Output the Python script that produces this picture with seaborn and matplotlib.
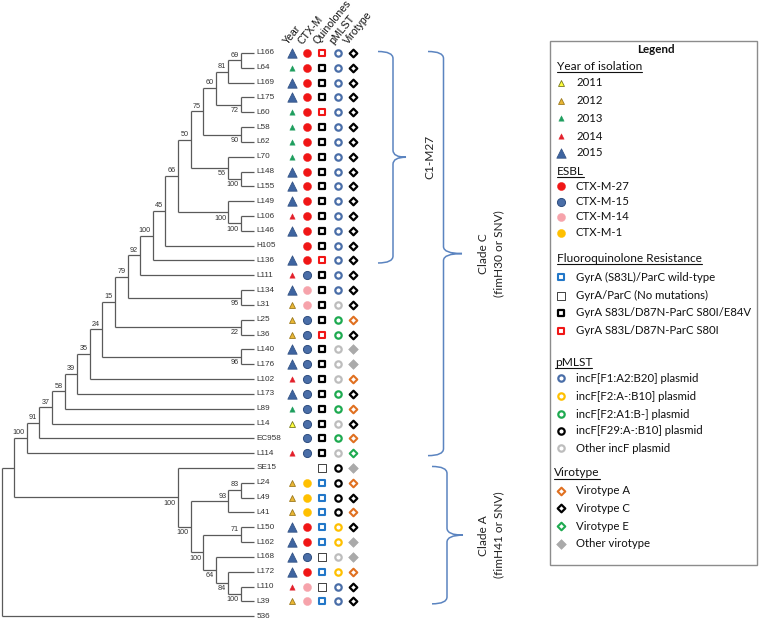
import numpy as np
import pandas as pd
import matplotlib
matplotlib.use("Agg")
import matplotlib.pyplot as plt
import seaborn as sns
from matplotlib.path import Path
from matplotlib.patches import PathPatch, Rectangle

# ---------------- DATA ----------------
TREE_NEWICK = ("((((((((((((((((((((" 
               "L166,L64)69,L169)81,(L175,L60)72)60,(L58,L62)90)75,(L70,(L148,L155)100)56)50,"
               "(L149,(L106,L146)100)100)66,H105)45,L136)100,L111)92,(L134,L31)95)79,(L25,L36)22)15,"
               "(L140,L176)96)24,L102)35,L173)39,L89)58,L14)37,EC958)91,L114)100,"
               "(SE15,(((L24,L49)83,L41)93,((L150,L162)71,(L168,(L172,(L110,L39)100)84)64)100)100)100),536);")

isolates = ["L166", "L64", "L169", "L175", "L60", "L58", "L62", "L70", "L148", "L155",
            "L149", "L106", "L146", "H105", "L136", "L111", "L134", "L31", "L25", "L36",
            "L140", "L176", "L102", "L173", "L89", "L14", "EC958", "L114", "SE15", "L24",
            "L49", "L41", "L150", "L162", "L168", "L172", "L110", "L39", "536"]

year = [2015, 2013, 2015, 2015, 2013, 2013, 2013, 2013, 2015, 2015,
        2015, 2014, 2015, None, 2015, 2014, 2015, 2012, 2012, 2012,
        2015, 2015, 2014, 2015, 2013, 2011, None, 2014, None, 2012,
        2012, 2012, 2015, 2015, 2015, 2015, 2014, 2012, None]

ctx_m = ["27"] * 15 + ["15", "14", "14", "15", "15", "15", "15", "15", "15", "15",
                       "15", "15", "15", None, "1", "1", "1", "27", "27", "15",
                       "27", "14", "14", None]

quinolones = ["S80I", "E84V", "E84V", "E84V", "S80I", "E84V", "E84V", "E84V", "E84V", "E84V",
              "E84V", "E84V", "E84V", "E84V", "S80I", "E84V", "E84V", "E84V", "E84V", "S80I",
              "E84V", "E84V", "E84V", "E84V", "E84V", "E84V", "E84V", "E84V", "none", "S83L",
              "S83L", "S83L", "S83L", "S83L", "none", "S83L", "none", "S83L", None]

pmlst = ["F1"] * 17 + ["other", "F2A1", "F2A1", "other", "other", "other", "F2A1", "F2A1",
                       "other", "F2A1", "other", "F29", "F29", "F29", "F29", "F2B10", "F2B10",
                       "other", "F2B10", "F1", "F1", None]

virotype = ["C"] * 18 + ["A", "C", "other", "other", "A", "C", "A", "C", "A", "E",
                         "other", "A", "C", "A", "C", "other", "other", "A", "C", "C", None]

columns = ["Year", "CTX-M", "Quinolones", "pMLST", "Virotype"]

year_labels = ["2011", "2012", "2013", "2014", "2015"]
esbl_labels = ["CTX-M-27", "CTX-M-15", "CTX-M-14", "CTX-M-1"]
quin_labels = ["GyrA (S83L)/ParC wild-type", "GyrA/ParC (No mutations)",
               "GyrA S83L/D87N-ParC S80I/E84V", "GyrA S83L/D87N-ParC S80I"]
pmlst_labels = ["incF[F1:A2:B20] plasmid", "incF[F2:A-:B10] plasmid", "incF[F2:A1:B-] plasmid",
                "incF[F29:A-:B10] plasmid", "Other incF plasmid"]
viro_labels = ["Virotype A", "Virotype C", "Virotype E", "Other virotype"]

clade_names = ["C1-M27", "Clade C\n(fimH30 or SNV)", "Clade A\n(fimH41 or SNV)"]
clade_first = ["L166", "L166", "SE15"]
clade_last = ["L136", "L114", "L39"]

# ---------------- STYLES ----------------
BLUE = "#4A6EA8"
STYLE = {
    ("Year", 2011): ("^", 18, "#FFFF3C", "#77771E", 0.6),
    ("Year", 2012): ("^", 18, "#E9B634", "#9C7A1E", 0.6),
    ("Year", 2013): ("^", 15, "#1E9E5E", "#1E9E5E", 0.3),
    ("Year", 2014): ("^", 15, "#E3202B", "#E3202B", 0.3),
    ("Year", 2015): ("^", 46, "#3E64A0", "#2F4E80", 0.5),
    ("CTX-M", "27"): ("o", 34, "#F01616", "#F01616", 0.3),
    ("CTX-M", "15"): ("o", 34, BLUE, "#2F4E80", 0.7),
    ("CTX-M", "14"): ("o", 34, "#F6A3AB", "#F6A3AB", 0.3),
    ("CTX-M", "1"): ("o", 34, "#FFC000", "#FFC000", 0.3),
    ("Quinolones", "S83L"): ("s", 18, "white", "#2277C8", 1.5),
    ("Quinolones", "none"): ("s", 26, "white", "#404040", 0.7),
    ("Quinolones", "E84V"): ("s", 18, "white", "black", 1.6),
    ("Quinolones", "S80I"): ("s", 18, "white", "#F01616", 1.5),
    ("pMLST", "F1"): ("o", 21, "white", BLUE, 1.6),
    ("pMLST", "F2B10"): ("o", 21, "white", "#FFC000", 1.6),
    ("pMLST", "F2A1"): ("o", 21, "white", "#1EAA50", 1.6),
    ("pMLST", "F29"): ("o", 21, "white", "black", 1.6),
    ("pMLST", "other"): ("o", 21, "white", "#BDBDBD", 1.6),
    ("Virotype", "A"): ("D", 15, "white", "#E07020", 1.5),
    ("Virotype", "C"): ("D", 15, "white", "black", 1.6),
    ("Virotype", "E"): ("D", 15, "white", "#1EAA50", 1.5),
    ("Virotype", "other"): ("D", 24, "#AAAAAA", "#AAAAAA", 0.5),
}

# ---------------- LAYOUT ----------------
LEAF_X = 253.5
STEP_X = 12.6
ROW0 = 53.0
ROW_H = 14.82
COL_X = [292, 307, 322, 338, 353]

sns.set_style("white")
plt.rcParams["font.family"] = ["Liberation Sans", "DejaVu Sans"]

fig = plt.figure(figsize=(7.6, 6.19), dpi=100)
ax = fig.add_axes([0, 0, 1, 1])
ax.set_xlim(0, 760)
ax.set_ylim(619, 0)
ax.axis("off")


# ---------------- parse tree ----------------
class Node:
    def __init__(self):
        self.children = []
        self.name = None
        self.support = None


def parse(s):
    pos = 0

    def read_label():
        nonlocal pos
        st = pos
        while pos < len(s) and s[pos] not in ",();":
            pos += 1
        return s[st:pos]

    def node():
        nonlocal pos
        n = Node()
        if s[pos] == "(":
            pos += 1
            n.children.append(node())
            while s[pos] == ",":
                pos += 1
                n.children.append(node())
            assert s[pos] == ")"
            pos += 1
            lab = read_label()
            n.support = lab if lab else None
        else:
            n.name = read_label()
        return n

    return node()


root = parse(TREE_NEWICK)
leaf_rows = {}


def layout(n):
    if not n.children:
        n.row = len(leaf_rows)
        leaf_rows[n.name] = n.row
        n.h = 0
    else:
        for c in n.children:
            layout(c)
        n.row = (n.children[0].row + n.children[-1].row) / 2
        n.h = 1 + max(c.h for c in n.children)
    n.x = LEAF_X - STEP_X * n.h
    n.y = ROW0 + ROW_H * n.row


layout(root)
assert list(leaf_rows) == isolates

LINE_C = "#5A5A5A"
TXT_C = "#333333"


def draw(n, is_first):
    if n.children:
        ax.plot([n.x, n.x], [n.children[0].y, n.children[-1].y], color=LINE_C, lw=0.9,
                solid_capstyle="butt")
        for i, c in enumerate(n.children):
            ax.plot([n.x, c.x], [c.y, c.y], color=LINE_C, lw=0.9, solid_capstyle="butt")
            draw(c, i == 0)
        if n.support is not None:
            if is_first:
                ax.text(n.x - 2, n.y - 1.8, n.support, ha="right", va="bottom",
                        fontsize=5.2, color=TXT_C)
            else:
                ax.text(n.x - 2, n.y + 2.3, n.support, ha="right", va="top",
                        fontsize=5.2, color=TXT_C)
    else:
        ax.text(LEAF_X + 3.2, n.y, n.name, ha="left", va="center", fontsize=5.9, color=TXT_C)


draw(root, True)

# ---------------- metadata markers ----------------
records = []
values = {"Year": year, "CTX-M": ctx_m, "Quinolones": quinolones, "pMLST": pmlst,
          "Virotype": virotype}
for ci, col in enumerate(columns):
    for iso, v in zip(isolates, values[col]):
        if v is None:
            continue
        records.append({"isolate": iso, "column": col, "code": v, "x": COL_X[ci],
                        "y": ROW0 + ROW_H * leaf_rows[iso]})
meta = pd.DataFrame(records)

for (col, code), sub in meta.groupby(["column", "code"]):
    m, s, fc, ec, lw = STYLE[(col, code)]
    sns.scatterplot(data=sub, x="x", y="y", marker=m, s=s, color=fc, edgecolor=ec,
                    linewidth=lw, ax=ax, legend=False, zorder=3)

for ci, col in enumerate(columns):
    ax.text(COL_X[ci] - 4.5, 45, col, rotation=51, rotation_mode="anchor", ha="left",
            va="baseline", fontsize=7.6, color="#111111")

ax.set_xlim(0, 760)
ax.set_ylim(619, 0)
ax.set_xlabel("")
ax.set_ylabel("")

# ---------------- brackets ----------------
BR_C = "#5B84C0"
bracket_geom = [(378, 393, 406, 430), (428, 443.5, 462, 491), (432, 447, 463, 491)]
for name, f, l, (x0, x1, x2, tx) in zip(clade_names, clade_first, clade_last, bracket_geom):
    top = ROW0 + ROW_H * leaf_rows[f] - 1.5
    bot = ROW0 + ROW_H * leaf_rows[l] + 2.5
    mid = (top + bot) / 2
    r = 7
    verts = [(x0, top), (x1, top), (x1, top + r),
             (x1, mid - r),
             (x1, mid), (x2, mid),
             (x1, mid), (x1, mid + r),
             (x1, bot - r),
             (x1, bot), (x0, bot)]
    codes = [Path.MOVETO, Path.CURVE3, Path.CURVE3, Path.LINETO, Path.CURVE3, Path.CURVE3,
             Path.CURVE3, Path.CURVE3, Path.LINETO, Path.CURVE3, Path.CURVE3]
    ax.add_patch(PathPatch(Path(verts, codes), facecolor="none", edgecolor=BR_C, lw=1.1))
    ax.text(tx, mid, name, rotation=90, ha="center", va="center", multialignment="center",
            fontsize=8.6, linespacing=1.45, color="#222222", family=["Lato", "DejaVu Sans"])

# ---------------- legend ----------------
LEG_FONT = ["Lato", "DejaVu Sans"]
ax.add_patch(Rectangle((550, 41), 207, 524, facecolor="white", edgecolor="#8C8C8C", lw=1.0,
                       zorder=1))
ax.text(656, 49.5, "Legend", ha="center", va="center", fontsize=8.4, fontweight="bold",
        family=LEG_FONT, color="#111111")

sections = [
    ("Year of isolation", 557, 66, "Year", [2011, 2012, 2013, 2014, 2015], year_labels,
     [83, 100.5, 118, 136, 153]),
    ("ESBL", 557, 171.5, "CTX-M", ["27", "15", "14", "1"], esbl_labels, [186, 201.5, 217, 233]),
    ("Fluoroquinolone Resistance", 557, 258, "Quinolones", ["S83L", "none", "E84V", "S80I"],
     quin_labels, [277, 295.5, 313, 331]),
    ("pMLST", 555, 362, "pMLST", ["F1", "F2B10", "F2A1", "F29", "other"], pmlst_labels,
     [378, 396, 414, 431, 448]),
    ("Virotype", 554, 473, "Virotype", ["A", "C", "E", "other"], viro_labels,
     [491, 508, 526, 543.5]),
]

renderer = fig.canvas.get_renderer()
inv = ax.transData.inverted()
for title, hx, hy, col, codes_, labels, ys in sections:
    t = ax.text(hx, hy, title, ha="left", va="center", fontsize=8.6, family=LEG_FONT,
                color="#111111")
    bb = t.get_window_extent(renderer).transformed(inv)
    uy = max(bb.y0, bb.y1) + 0.3
    ax.plot([min(bb.x0, bb.x1), max(bb.x0, bb.x1)], [uy, uy], color="#111111", lw=0.8)
    leg_df = pd.DataFrame({"x": [561] * len(ys), "y": ys, "code": codes_, "label": labels})
    for _, row in leg_df.iterrows():
        m, s, fc, ec, lw = STYLE[(col, row["code"])]
        sns.scatterplot(x=[row["x"]], y=[row["y"]], marker=m, s=s, color=fc, edgecolor=ec,
                        linewidth=lw, ax=ax, legend=False, zorder=3)
        ax.text(576, row["y"], row["label"], ha="left", va="center", fontsize=8.2,
                family=LEG_FONT, color="#111111")

ax.set_xlim(0, 760)
ax.set_ylim(619, 0)
ax.axis("off")
fig.savefig("out.png", dpi=100)
